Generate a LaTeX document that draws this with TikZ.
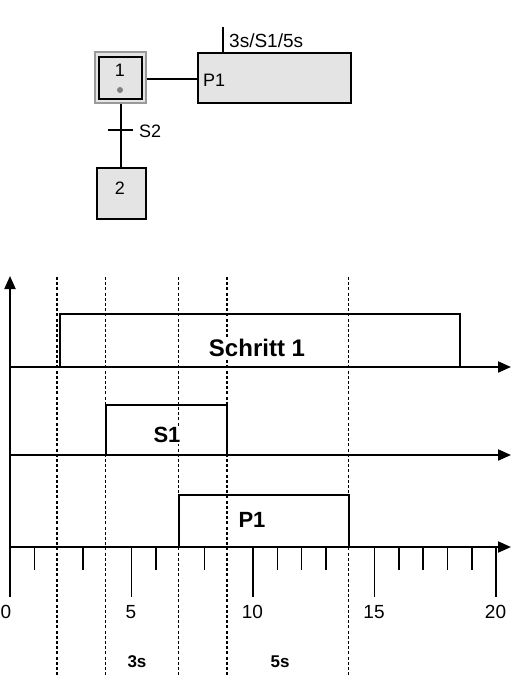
\documentclass[tikz,border=0pt]{standalone}
\usepackage{fontspec}
\setmainfont{Liberation Sans}
\usetikzlibrary{arrows.meta}
\definecolor{boxgray}{HTML}{E4E4E4}
\definecolor{framegray}{HTML}{9A9A9A}
\begin{document}
\begin{tikzpicture}[x=1pt,y=-1pt,
  stepbox/.style={draw=black,line width=1.2pt,fill=boxgray,inner sep=0pt},
  conn/.style={line width=1.2pt},
  sig/.style={line width=2.6pt,line join=miter},
  axis/.style={line width=2pt,-{Triangle[length=13pt,width=11pt]}},
  tick/.style={line width=1.6pt},
  guide/.style={line width=1.5pt,dash pattern=on 3pt off 2.2pt},
  smalltxt/.style={font=\fontsize{18}{21}\selectfont,inner sep=0pt},
  numtxt/.style={font=\fontsize{19}{22}\selectfont,inner sep=0pt},
  bigtxt/.style={font=\bfseries\fontsize{22}{26}\selectfont,inner sep=1pt,fill=white},
  durtxt/.style={font=\bfseries\fontsize{17}{20}\selectfont,inner sep=0pt}]
\clip (0,0) rectangle (518,691);
\fill[white] (0,0) rectangle (518,691);

% ---------- GRAFCET part ----------
\node (s1o) [stepbox,draw=framegray,line width=1.4pt,minimum width=51pt,minimum height=51pt] at (120.5,77.5) {};
\node (s1) [draw=black,line width=1.6pt,minimum width=43pt,minimum height=42pt,inner sep=0pt] at (120.5,78) {};
\node (s1t) [smalltxt] at (120,70) {1};
\node (s1d) [circle,fill=gray,inner sep=0pt,minimum size=6pt] at (120,90) {};

\node (p1) [stepbox,minimum width=153pt,minimum height=50pt] at (274.5,78) {};
\node (p1t) [smalltxt,anchor=west] at (203,80) {P1};
\draw[conn] (s1o.east |- 0,79) -- (p1.west |- 0,79);

\coordinate (q) at (223,27);
\draw[conn] (q) -- (q |- p1.north);
\node (ql) [smalltxt,font=\fontsize{19}{22}\selectfont,anchor=base west] at (229,47) {3s/S1/5s};

\node (s2) [stepbox,minimum width=49pt,minimum height=51pt] at (121.5,193.5) {};
\node (s2t) [smalltxt] at (120,188) {2};
\draw[conn] (s1o.south -| 121,0) -- (s2.north -| 121,0);
\coordinate (tl) at (108,130);
\coordinate (tr) at (133,130);
\draw[conn] (tl) -- (tr);
\node (s2l) [smalltxt,anchor=west] at (139,131) {S2};

% ---------- timing diagram ----------
% guides
\foreach \t in {2,4,7,9,14}
  \draw[guide] ({10+24.3*\t-1.5},277) -- ({10+24.3*\t-1.5},676);

% axes
\draw[axis] (10,597) -- (10,276);
\draw[axis] (10,367) -- (511,367);
\draw[axis] (10,455) -- (511,455);
\draw[axis] (10,547) -- (511,547);

% ticks
\foreach \t in {1,3,6,8,11,12,13,16,17,18,19}
  \draw[tick] ({10+24.3*\t},547) -- ({10+24.3*\t},570);
\foreach \t in {0,5,10,15,20}
  \draw[tick] ({10+24.3*\t},547) -- ({10+24.3*\t},597);
\node (n0) [numtxt,anchor=west] at (0.5,612) {0};
\foreach \t in {5,10,15,20}
  \node[numtxt] at ({10+24.3*\t-0.5},612) {\t};

% signals
\draw[sig] (10,367) -- (60,367) -- (60,314) -- (460,314) -- (460,367) -- (470,367);
\draw[sig] (10,455) -- (106,455) -- (106,405) -- (227,405) -- (227,455) -- (240,455);
\draw[sig] (10,547) -- (179,547) -- (179,495) -- (349,495) -- (349,547) -- (360,547);

\node (sch) [bigtxt,font=\bfseries\fontsize{24}{28}\selectfont] at (257,348) {Schritt 1};
\node (s1s) [bigtxt] at (167,435) {S1};
\node (p1s) [bigtxt] at (252,520) {P1};
\node (d3) [durtxt] at (137,662) {3s};
\node (d5) [durtxt] at (280,662) {5s};
\end{tikzpicture}
\end{document}
